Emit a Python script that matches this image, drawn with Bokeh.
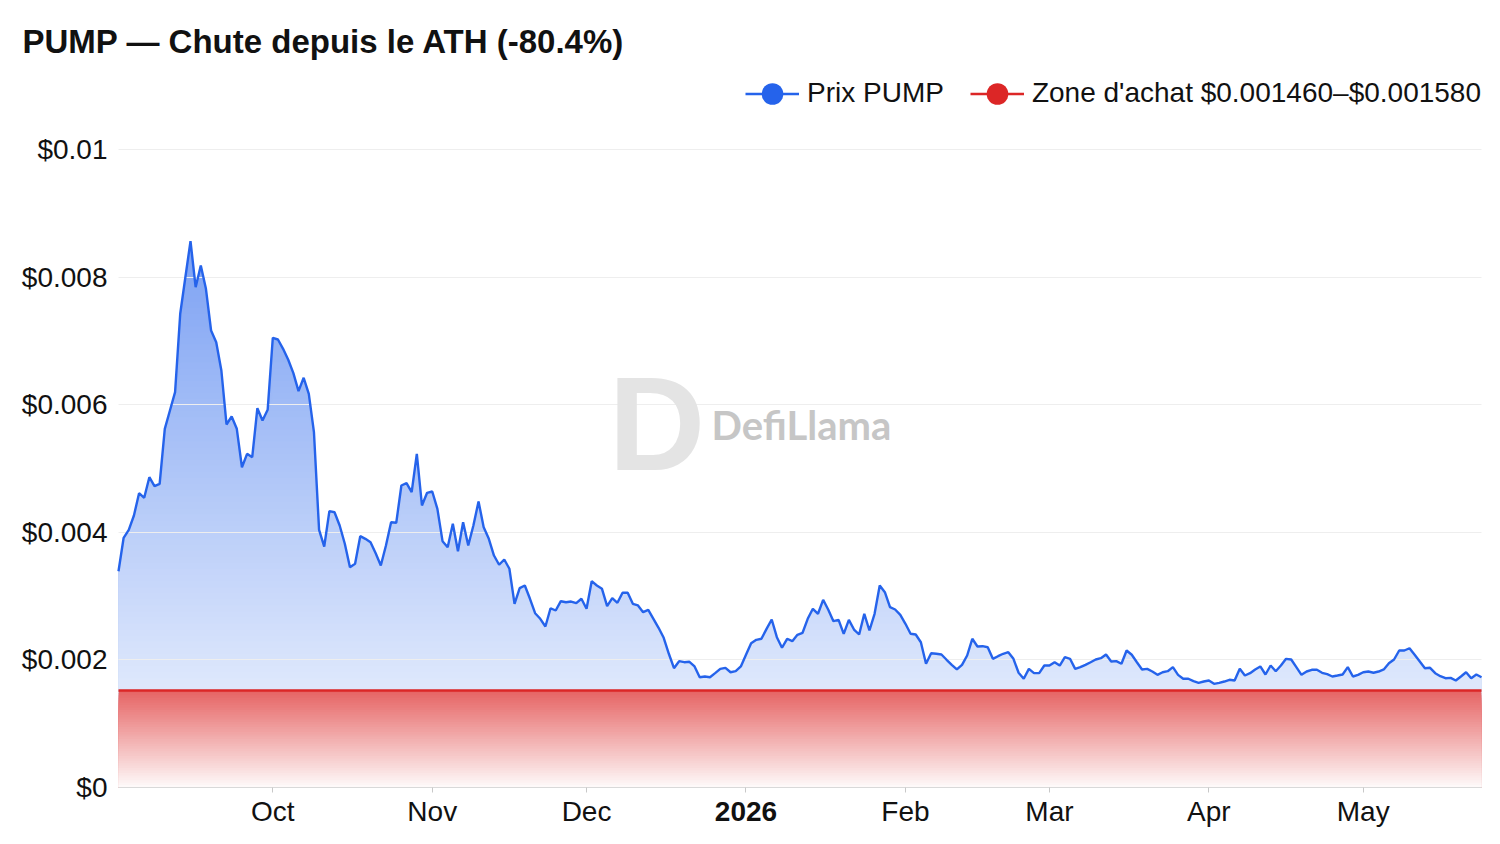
import numpy as np
import pandas as pd
from bokeh.plotting import figure
from bokeh.models import Range1d, FixedTicker, Label, Legend, LegendItem, DatetimeAxis
from bokeh.embed import file_html
from bokeh.resources import INLINE

title_text = "PUMP — Chute depuis le ATH (-80.4%)"
start_date = "2025-09-01"

# daily PUMP price in USD (Sep 1 2025 -> May 24 2026)
prix_pump = [
    0.003390, 0.003914, 0.004039, 0.004263, 0.004613, 0.004541, 0.004864, 0.004723, 0.004760, 0.005622,
    0.005909, 0.006196, 0.007425, 0.007998, 0.008563, 0.007842, 0.008182, 0.007817, 0.007163, 0.006980,
    0.006536, 0.005690, 0.005815, 0.005622, 0.005020, 0.005230, 0.005177, 0.005945, 0.005752, 0.005920,
    0.007049, 0.007022, 0.006876, 0.006704, 0.006494, 0.006212, 0.006422, 0.006171, 0.005569, 0.004039,
    0.003777, 0.004331, 0.004315, 0.004107, 0.003820, 0.003453, 0.003506, 0.003939, 0.003898, 0.003845,
    0.003672, 0.003480, 0.003793, 0.004158, 0.004149, 0.004734, 0.004770, 0.004629, 0.005230, 0.004420,
    0.004619, 0.004639, 0.004368, 0.003861, 0.003766, 0.004133, 0.003704, 0.004158, 0.003793, 0.004107,
    0.004483, 0.004080, 0.003898, 0.003636, 0.003491, 0.003574, 0.003428, 0.002879, 0.003124, 0.003166,
    0.002958, 0.002732, 0.002644, 0.002524, 0.002810, 0.002774, 0.002920, 0.002904, 0.002915, 0.002889,
    0.002958, 0.002801, 0.003234, 0.003166, 0.003114, 0.002842, 0.002967, 0.002895, 0.003052, 0.003052,
    0.002879, 0.002853, 0.002748, 0.002785, 0.002644, 0.002503, 0.002346, 0.002096, 0.001870, 0.001980,
    0.001964, 0.001970, 0.001897, 0.001729, 0.001740, 0.001729, 0.001792, 0.001860, 0.001876, 0.001807,
    0.001823, 0.001897, 0.002080, 0.002262, 0.002315, 0.002331, 0.002487, 0.002633, 0.002356, 0.002190,
    0.002331, 0.002293, 0.002393, 0.002425, 0.002644, 0.002801, 0.002723, 0.002942, 0.002785, 0.002607,
    0.002628, 0.002409, 0.002628, 0.002476, 0.002398, 0.002723, 0.002461, 0.002723, 0.003166, 0.003061,
    0.002826, 0.002790, 0.002707, 0.002566, 0.002409, 0.002398, 0.002277, 0.001939, 0.002105, 0.002096,
    0.002085, 0.002002, 0.001923, 0.001850, 0.001923, 0.002069, 0.002331, 0.002210, 0.002215, 0.002199,
    0.002017, 0.002058, 0.002096, 0.002121, 0.002017, 0.001798, 0.001704, 0.001860, 0.001792, 0.001792,
    0.001912, 0.001912, 0.001964, 0.001912, 0.002042, 0.002017, 0.001860, 0.001886, 0.001923, 0.001964,
    0.002006, 0.002027, 0.002085, 0.001975, 0.001980, 0.001939, 0.002147, 0.002080, 0.001964, 0.001850,
    0.001860, 0.001818, 0.001766, 0.001807, 0.001823, 0.001886, 0.001766, 0.001704, 0.001704, 0.001666,
    0.001641, 0.001661, 0.001677, 0.001625, 0.001641, 0.001661, 0.001688, 0.001677, 0.001860, 0.001755,
    0.001792, 0.001850, 0.001897, 0.001771, 0.001912, 0.001823, 0.001912, 0.002017, 0.002006, 0.001886,
    0.001766, 0.001818, 0.001845, 0.001845, 0.001798, 0.001776, 0.001740, 0.001755, 0.001771, 0.001886,
    0.001740, 0.001766, 0.001807, 0.001818, 0.001798, 0.001818, 0.001850, 0.001948, 0.002006, 0.002147,
    0.002147, 0.002183, 0.002080, 0.001975, 0.001870, 0.001876, 0.001792, 0.001745, 0.001713, 0.001719,
    0.001677, 0.001740, 0.001807, 0.001713, 0.001771, 0.001729,
]

zone_low = 0.001460
zone_high = 0.001580

y_ticks = [0, 0.002, 0.004, 0.006, 0.008, 0.01]
y_tick_labels = ["$0", "$0.002", "$0.004", "$0.006", "$0.008", "$0.01"]

month_ticks = ["2025-10-01", "2025-11-01", "2025-12-01", "2026-01-01",
               "2026-02-01", "2026-03-01", "2026-04-01", "2026-05-01"]
month_labels = ["Oct", "Nov", "Dec", "2026", "Feb", "Mar", "Apr", "May"]
bold_labels = ["2026"]

legend_labels = ["Prix PUMP", "Zone d'achat $0.001460–$0.001580"]

BLUE = (37, 99, 235)
RED = (220, 38, 38)
FONT = "Liberation Sans"
TICK_FS = "28px"

# layout (pixels): frame spans x 118..1481, y 62..787 ; value 0.01 sits at y 149
FRAME_TOP, GRID_TOP, FRAME_BOTTOM = 62, 149, 787
y_max = y_ticks[-1] * (FRAME_BOTTOM - FRAME_TOP) / (FRAME_BOTTOM - GRID_TOP)

dates = pd.date_range(start_date, periods=len(prix_pump), freq="D")
price = np.array(prix_pump)
zone_mid = (zone_low + zone_high) / 2
zone = np.full(len(price), zone_mid)


def blend(rgb, a):
    r, g, b = (int(round(255 - a * (255 - c))) for c in rgb)
    return "#%02x%02x%02x" % (r, g, b)


p = figure(width=1500, height=844, x_axis_type="datetime",
           output_backend="svg", toolbar_location=None, title=title_text,
           x_range=Range1d(dates[0], dates[-1]), y_range=Range1d(0, y_max),
           min_border_left=118, min_border_right=19,
           min_border_top=FRAME_TOP, min_border_bottom=844 - FRAME_BOTTOM)
p.outline_line_color = None
p.background_fill_color = "white"
p.border_fill_color = "white"

p.title.text_font = FONT
p.title.text_font_size = "33px"
p.title.text_font_style = "bold"
p.title.text_color = "#111111"
p.title.align = "left"
p.title.offset = -96
p.title.standoff = 6

# blue gradient area under price (stacked opaque bands)
top = price.max()
N = 90
levels = np.linspace(0, top, N + 1)
for k in range(N - 1, -1, -1):
    t = (levels[k] + levels[k + 1]) / 2 / top
    a = 0.05 + 0.55 * t
    p.varea(x=dates, y1=0, y2=np.minimum(price, levels[k + 1]), fill_color=blend(BLUE, a))

# red gradient zone
M = 40
rlev = np.linspace(0, zone_mid, M + 1)
for k in range(M - 1, -1, -1):
    t = (rlev[k] + rlev[k + 1]) / 2 / zone_mid
    a = 0.02 + 0.70 * t
    p.varea(x=dates, y1=0, y2=np.minimum(zone, rlev[k + 1]), fill_color=blend(RED, a))

zone_line = p.line(dates, zone, line_color="#dc2626", line_width=2.5)
price_line = p.line(dates, price, line_color="#2563eb", line_width=2.4)
price_line.level = "overlay"
zone_line.level = "overlay"

# zero-size markers: only used to draw the legend dots
dot_b = p.scatter(dates, price, size=0, marker="circle", fill_color="#2563eb", line_color=None)
dot_r = p.scatter(dates, zone, size=0, marker="circle", fill_color="#dc2626", line_color=None)

# grid
p.xgrid.visible = False
p.ygrid.ticker = FixedTicker(ticks=y_ticks[1:])
p.ygrid.grid_line_color = "#eeeeee"
p.ygrid.grid_line_width = 1
p.ygrid.level = "annotation"

# y axis
p.yaxis.ticker = FixedTicker(ticks=y_ticks)
p.yaxis.major_label_overrides = dict(zip(y_ticks, y_tick_labels))
p.yaxis.axis_line_color = None
p.yaxis.major_tick_line_color = None
p.yaxis.major_tick_out = 0
p.yaxis.major_tick_in = 0
p.yaxis.minor_tick_line_color = None
p.yaxis.major_label_text_font = FONT
p.yaxis.major_label_text_font_size = TICK_FS
p.yaxis.major_label_text_color = "#111111"
p.yaxis.major_label_standoff = 11

# x axis
tick_ms = [float(pd.Timestamp(t).value // 10**6) for t in month_ticks]
p.xaxis.ticker = FixedTicker(ticks=tick_ms)
p.xaxis.major_label_overrides = {ms: ("" if lab in bold_labels else lab)
                                 for ms, lab in zip(tick_ms, month_labels)}
p.xaxis.axis_line_color = "#d9d9d9"
p.xaxis.major_tick_line_color = "#c8c8c8"
p.xaxis.major_tick_out = 5
p.xaxis.major_tick_in = 0
p.xaxis.minor_tick_line_color = None
p.xaxis.major_label_text_font = FONT
p.xaxis.major_label_text_font_size = TICK_FS
p.xaxis.major_label_text_color = "#111111"
p.xaxis.major_label_standoff = 3

# bold year label: second axis below, pulled up onto the first axis' label row
bold_ms = [ms for ms, lab in zip(tick_ms, month_labels) if lab in bold_labels]
bold_axis = DatetimeAxis(ticker=FixedTicker(ticks=bold_ms),
                         major_label_overrides={ms: lab for ms, lab in zip(tick_ms, month_labels)
                                                if lab in bold_labels},
                         axis_line_color=None, major_tick_line_color=None,
                         minor_tick_line_color=None, major_tick_out=0, major_tick_in=0,
                         major_label_standoff=-28, major_label_text_font=FONT,
                         major_label_text_font_size=TICK_FS, major_label_text_font_style="bold",
                         major_label_text_color="#111111")
p.add_layout(bold_axis, "below")

# watermark
p.add_layout(Label(x=490, y=364, x_units="screen", y_units="screen", text="D",
                   text_font=FONT, text_font_size="134px", text_font_style="bold",
                   text_color="#e4e4e4", text_baseline="alphabetic"))
p.add_layout(Label(x=593, y=363, x_units="screen", y_units="screen", text="DefiLlama",
                   text_font="Lato", text_font_size="40px", text_font_style="bold",
                   text_color="#c6c6c6", text_baseline="middle"))

legend = Legend(items=[LegendItem(label=legend_labels[0], renderers=[price_line, dot_b]),
                       LegendItem(label=legend_labels[1], renderers=[zone_line, dot_r])],
                orientation="horizontal", location=(627, 666.5),
                glyph_width=54, glyph_height=55, label_standoff=8, spacing=26,
                padding=0, margin=0, label_text_font=FONT, label_text_font_size="28px",
                label_text_color="#111111", background_fill_alpha=0, border_line_alpha=0)
p.add_layout(legend)

open("out.html", "w").write(file_html(p, INLINE))
